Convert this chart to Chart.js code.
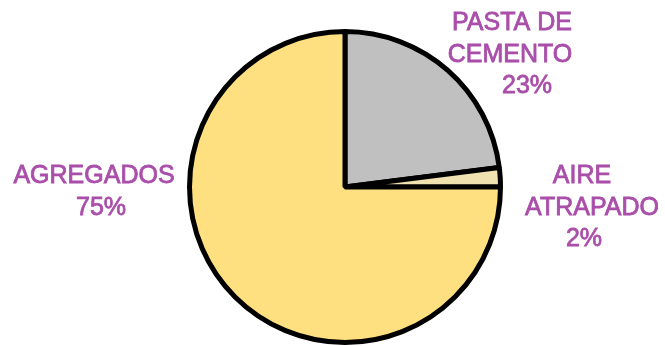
<!DOCTYPE html>
<html>
<head>
<meta charset="utf-8">
<script src="https://cdn.jsdelivr.net/npm/chart.js@4/dist/chart.umd.min.js"></script>
<style>
html,body{margin:0;padding:0;background:#fff;}
#wrap{width:665px;height:346px;position:relative;}
</style>
</head>
<body>
<div id="wrap"><canvas id="c" width="665" height="346"></canvas></div>
<script>
// Data
const categories = [["PASTA DE", "CEMENTO"], ["AIRE", "ATRAPADO"], ["AGREGADOS"]];
const values = [23, 2, 75];
const sliceColors = ["#C0C0C0", "#F0E2B0", "#FFE080"];

// label placement (line centers x, first baseline y)
const labelPos = [
  {x: [512, 510, 527], y: 30},
  {x: [582, 592, 584], y: 183},
  {x: [94, 101], y: 183}
];

const labelPlugin = {
  id: 'sliceLabels',
  afterDraw(chart) {
    const ctx = chart.ctx;
    ctx.save();
    ctx.fillStyle = '#A94FAA';
    ctx.strokeStyle = '#A94FAA';
    ctx.lineWidth = 0.8;
    ctx.font = '25px "Liberation Sans", Arial, sans-serif';
    ctx.textAlign = 'center';
    ctx.textBaseline = 'alphabetic';
    const data = chart.data.datasets[0].data;
    chart.data.labels.forEach((lab, i) => {
      const lines = lab.concat([data[i] + '%']);
      const p = labelPos[i];
      lines.forEach((t, j) => {
        const y = p.y + j * 31.5;
        ctx.fillText(t, p.x[j], y);
        ctx.strokeText(t, p.x[j], y);
      });
    });
    ctx.restore();
  }
};

new Chart(document.getElementById('c'), {
  type: 'pie',
  data: {
    labels: categories,
    datasets: [{
      data: values,
      backgroundColor: sliceColors,
      borderColor: '#000000',
      borderWidth: 5
    }]
  },
  options: {
    responsive: false,
    animation: false,
    layout: {padding: {top: 29, bottom: 1, left: 25, right: 0}},
    plugins: {legend: {display: false}, tooltip: {enabled: false}}
  },
  plugins: [labelPlugin]
});
</script>
</body>
</html>
